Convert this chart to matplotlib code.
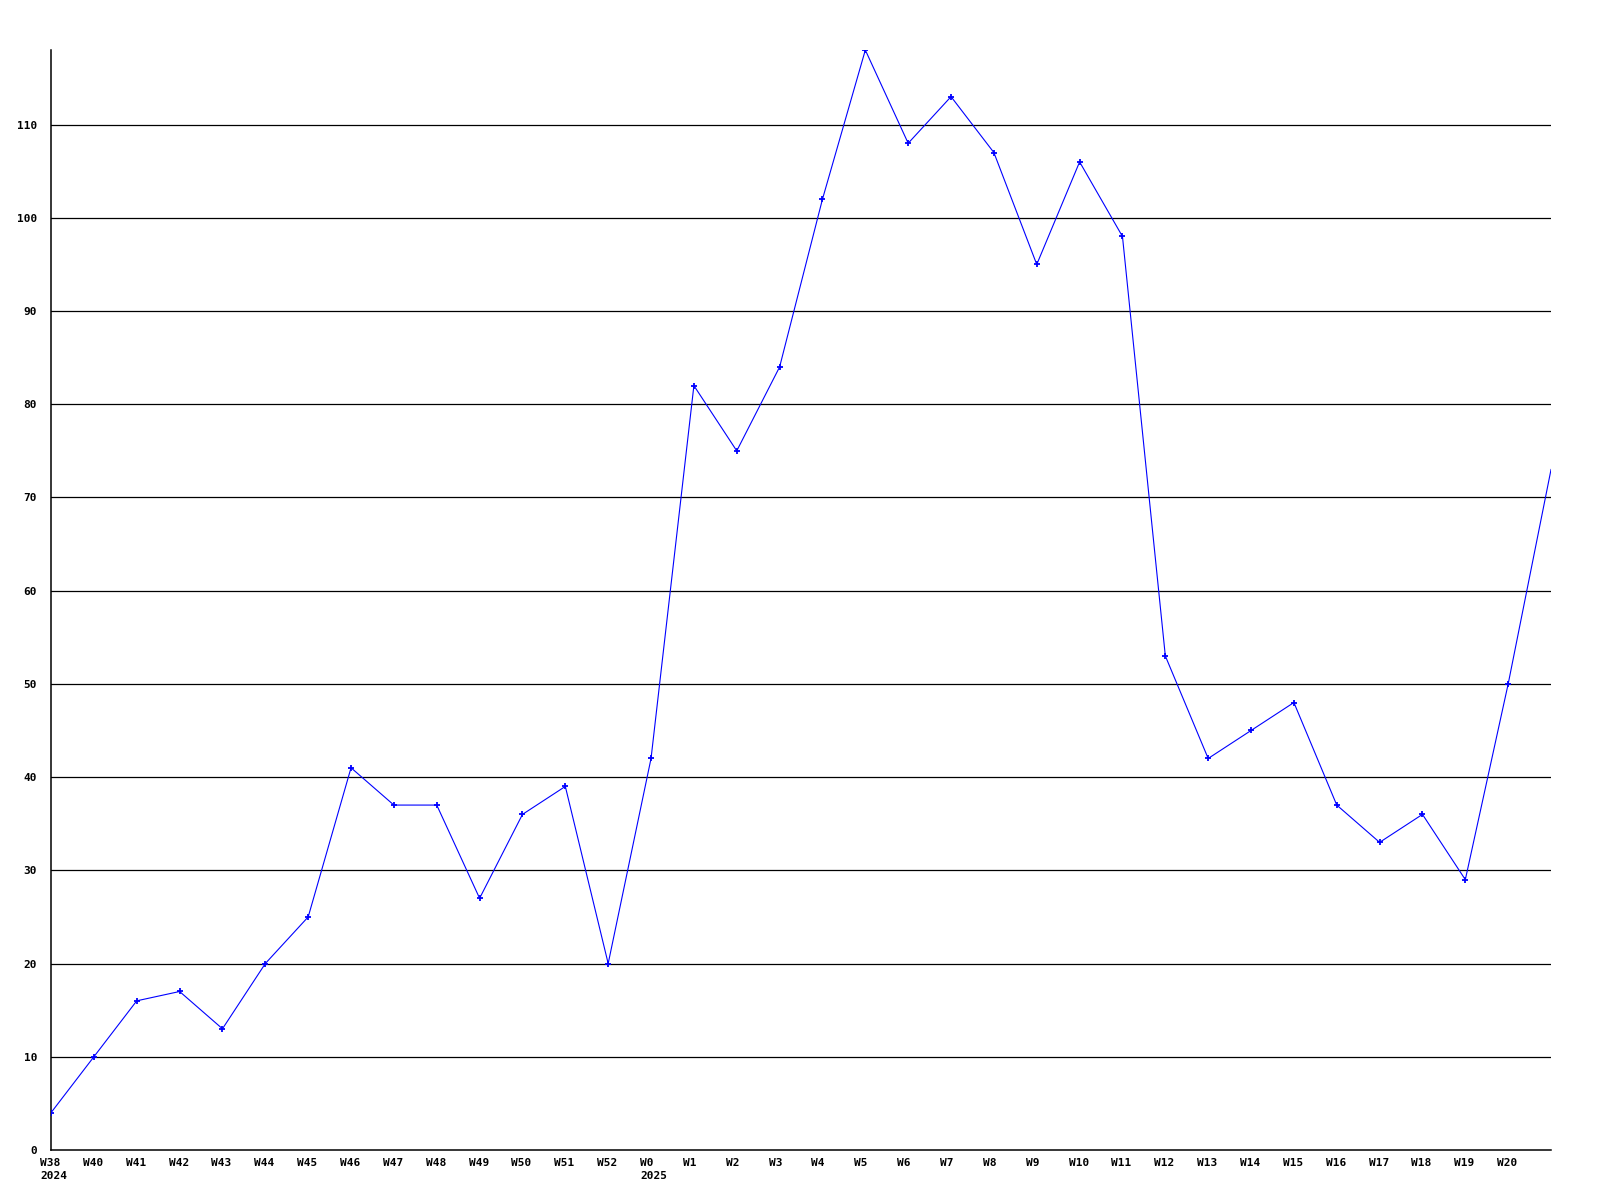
import matplotlib
matplotlib.use("Agg")
import matplotlib.pyplot as plt
import matplotlib.transforms as mtransforms

# weekly counts, W38 2024 .. W20 2025 plus one trailing point
weeks = ["W38", "W40", "W41", "W42", "W43", "W44", "W45", "W46", "W47", "W48",
         "W49", "W50", "W51", "W52", "W0", "W1", "W2", "W3", "W4", "W5",
         "W6", "W7", "W8", "W9", "W10", "W11", "W12", "W13", "W14", "W15",
         "W16", "W17", "W18", "W19", "W20"]
years = {0: "2024", 14: "2025"}
values = [4, 10, 16, 17, 13, 20, 25, 41, 37, 37,
          27, 36, 39, 20, 42, 82, 75, 84, 102, 118,
          108, 113, 107, 95, 106, 98, 53, 42, 45, 48,
          37, 33, 36, 29, 50, 73]
yticks = list(range(0, 111, 10))

fig = plt.figure(figsize=(16, 12), dpi=100)
ax = fig.add_axes([0.0319, 0.0417, 0.9375, 0.9166])

x = list(range(len(values)))
# the trailing point sits on the right edge without a marker
ax.plot(x, values, color="blue", lw=0.8, marker="+", ms=4.5, mew=1.3,
        markevery=list(range(len(weeks))), zorder=3)

for y in yticks[1:]:
    ax.axhline(y, color="black", lw=0.9, zorder=1)

ax.set_xlim(0, len(values) - 1)
ax.set_ylim(0, 118)

for s in ["top", "right"]:
    ax.spines[s].set_visible(False)
for s in ["left", "bottom"]:
    ax.spines[s].set_linewidth(1.1)

font = dict(family="DejaVu Sans Mono", weight="bold", size=8)

ax.set_yticks(yticks)
ax.set_yticklabels([str(v) for v in yticks], **font)
ax.tick_params(axis="y", length=0, pad=10)

labels = []
for i, w in enumerate(weeks):
    labels.append(w + "\n" + years[i] if i in years else w)
ax.set_xticks(range(len(weeks)))
ax.set_xticklabels(labels, ha="left", va="top", linespacing=1.35, **font)
ax.tick_params(axis="x", length=0, pad=6)
offset = mtransforms.ScaledTranslation(-11 / 100, 0, fig.dpi_scale_trans)
for lab in ax.get_xticklabels():
    lab.set_transform(lab.get_transform() + offset)

fig.savefig("out.png", dpi=100, facecolor="white")
